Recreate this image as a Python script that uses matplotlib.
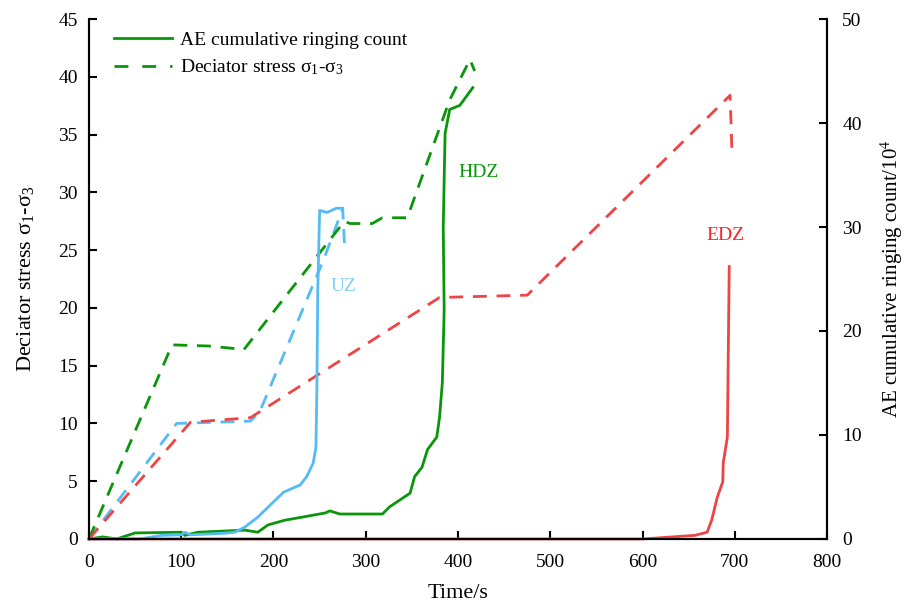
import matplotlib
matplotlib.use("Agg")
import matplotlib.pyplot as plt
from matplotlib.lines import Line2D

plt.rcParams['font.family'] = ['Liberation Serif', 'DejaVu Serif']
plt.rcParams['mathtext.fontset'] = 'stix'

# Stress curves (left axis, MPa)
uz_stress_t = [0, 95, 175, 185, 255, 275, 277]
uz_stress_v = [0, 10.0, 10.2, 11.0, 24.3, 28.6, 25.4]
hdz_stress_t = [0, 90, 130, 168, 272, 277, 283, 307, 318, 345, 391, 413, 418]
hdz_stress_v = [0, 16.8, 16.7, 16.4, 27.0, 27.5, 27.3, 27.3, 27.8, 27.8, 38.0, 41.5, 40.5]
edz_stress_t = [0, 110, 175, 380, 475, 695, 697]
edz_stress_v = [0, 10.1, 10.5, 20.9, 21.1, 38.4, 33.4]

# AE cumulative ringing count (right axis, x10^4)
uz_ae_t = [0, 55, 79, 100, 104, 110, 147, 158, 169, 183, 198, 211, 229, 236, 243, 246, 247, 248, 250, 258, 268, 275]
uz_ae_v = [0, 0, 0.35, 0.4, 0.65, 0.4, 0.55, 0.65, 1.15, 2.1, 3.4, 4.5, 5.2, 6.0, 7.3, 8.8, 14.3, 24.0, 31.6, 31.4, 31.8, 31.8]
hdz_ae_t = [0, 15, 30, 50, 100, 104, 118, 169, 183, 194, 212, 231, 256, 261, 272, 318, 326, 348, 353, 361, 367, 377, 380, 383, 385, 384, 386, 391, 402, 416]
hdz_ae_v = [0, 0.2, 0, 0.58, 0.65, 0.35, 0.65, 0.85, 0.65, 1.35, 1.8, 2.1, 2.5, 2.7, 2.4, 2.4, 3.1, 4.4, 6.0, 6.9, 8.6, 9.8, 11.7, 15.0, 22.0, 30.0, 39.0, 41.3, 41.7, 43.4]
edz_ae_t = [0, 600, 657, 670, 675, 681, 687, 687.5, 692, 694]
edz_ae_v = [0, 0, 0.35, 0.65, 1.8, 4.0, 5.5, 7.3, 9.8, 26.2]

C_GREEN = '#0a960a'
C_BLUE = '#55bbf5'
C_RED = '#ee4444'

fig = plt.figure(figsize=(9.09, 6.06), dpi=100)
ax = fig.add_axes([0.0979, 0.1106, 0.8119, 0.858])
ax2 = ax.twinx()

lw = 2.0
dash = (5, 3.5)
ax.plot(uz_stress_t, uz_stress_v, color=C_BLUE, lw=lw, ls=(0, dash))
ax.plot(hdz_stress_t, hdz_stress_v, color=C_GREEN, lw=lw, ls=(0, dash))
ax.plot(edz_stress_t, edz_stress_v, color=C_RED, lw=lw, ls=(0, dash))

ax2.plot(hdz_ae_t, hdz_ae_v, color=C_GREEN, lw=lw, clip_on=False)
ax2.plot(uz_ae_t, uz_ae_v, color=C_BLUE, lw=lw, clip_on=False)
ax2.plot(edz_ae_t, edz_ae_v, color=C_RED, lw=lw, clip_on=False)

ax.set_xlim(0, 800)
ax.set_ylim(0, 45)
ax2.set_ylim(0, 50)
ax.set_xticks(range(0, 801, 100))
ax.set_yticks(range(0, 46, 5))
ax2.set_yticks(range(0, 51, 10))

for a in (ax, ax2):
    a.spines['top'].set_visible(False)
    for s in a.spines.values():
        s.set_linewidth(1.5)
    a.tick_params(direction='in', length=6, width=1.5, labelsize=14)
ax.tick_params(axis='x', pad=11)
ax.tick_params(axis='y', pad=8)
ax2.tick_params(axis='y', pad=11)

ax.set_xlabel('Time/s', fontsize=16, labelpad=9)
ax.set_ylabel(r'Deciator stress $\mathregular{\sigma_1}$-$\mathregular{\sigma_3}$', fontsize=16, labelpad=16)
ax2.set_ylabel(r'AE cumulative ringing count/10$^4$', fontsize=15, labelpad=12)

ax.text(262, 21.5, 'UZ', color='#88ccf8', fontsize=14)
ax.text(400, 31.3, 'HDZ', color=C_GREEN, fontsize=14)
ax.text(669, 25.9, 'EDZ', color='#ff2020', fontsize=14)

handles = [Line2D([], [], color=C_GREEN, lw=lw),
           Line2D([], [], color=C_GREEN, lw=lw, ls=(0, (5, 5)))]
ax.legend(handles, ['AE cumulative ringing count',
                    r'Deciator stress $\mathregular{\sigma_1}$-$\mathregular{\sigma_3}$'],
          loc='upper left', bbox_to_anchor=(0.01, 1.01), frameon=False,
          fontsize=14, handlelength=3.0, handletextpad=0.4, labelspacing=0.45)

fig.savefig('out.png', dpi=100)
